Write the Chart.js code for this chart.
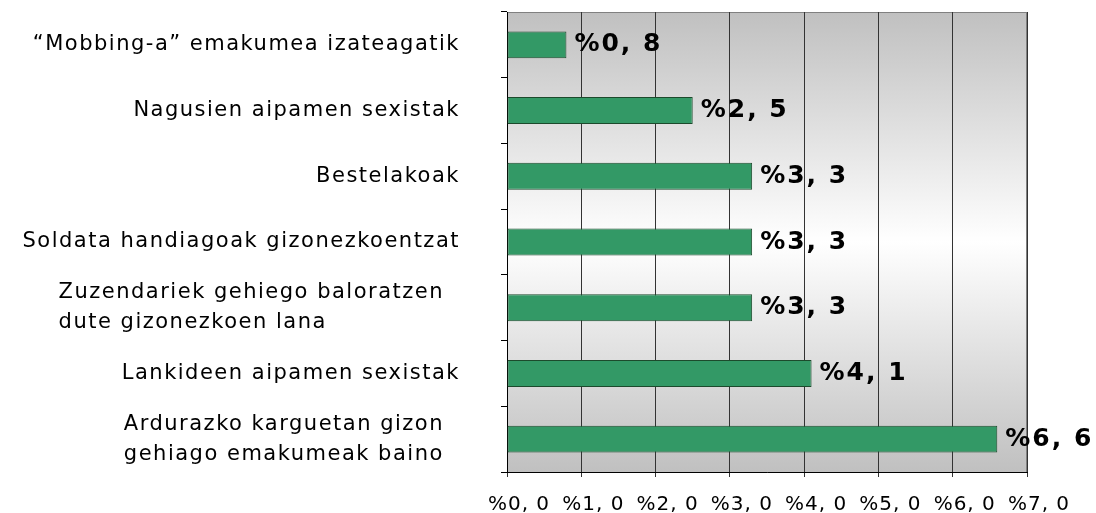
<!DOCTYPE html>
<html>
<head>
<meta charset="utf-8">
<script src="https://cdn.jsdelivr.net/npm/chart.js@4/dist/chart.umd.min.js"></script>
<style>
  html, body { margin: 0; padding: 0; background: #fff; }
  #wrap { width: 1096px; height: 513px; }
</style>
</head>
<body>
<div id="wrap"><canvas id="chart"></canvas></div>
<script>
// ===== Data =====
const categories = [
  ['\u201CMobbing-a\u201D emakumea izateagatik'],
  ['Nagusien aipamen sexistak'],
  ['Bestelakoak'],
  ['Soldata handiagoak gizonezkoentzat'],
  ['Zuzendariek gehiego baloratzen', 'dute gizonezkoen lana'],
  ['Lankideen aipamen sexistak'],
  ['Ardurazko karguetan gizon', 'gehiago emakumeak baino']
];
const values = [0.8, 2.5, 3.3, 3.3, 3.3, 4.1, 6.6];
const xTicks = [0, 1, 2, 3, 4, 5, 6, 7];

const FONT = "'DejaVu Sans', Verdana, sans-serif";
const fmtPct = v => '%' + v.toFixed(1).replace('.', ', ');

// gradient plot background + grey frame
const plotBg = {
  id: 'plotBg',
  beforeDraw(chart) {
    const { ctx, chartArea: a } = chart;
    const g = ctx.createLinearGradient(0, a.top, 0, a.bottom);
    g.addColorStop(0, '#c0c0c0');
    g.addColorStop(0.5, '#ffffff');
    g.addColorStop(1, '#c0c0c0');
    ctx.save();
    ctx.fillStyle = g;
    ctx.fillRect(a.left, a.top, a.right - a.left, a.bottom - a.top);
    ctx.strokeStyle = '#808080';
    ctx.lineWidth = 1;
    ctx.strokeRect(a.left + 0.5, a.top + 0.5, a.right - a.left - 1, a.bottom - a.top);
    ctx.restore();
    // wider letter spacing for the axis tick labels (Verdana-like look)
    ctx.letterSpacing = '1px';
  },
  afterDraw(chart) {
    chart.ctx.letterSpacing = '0px';
  }
};

// category labels: multi-line ones are left aligned in a block (Excel style)
const catLabels = {
  id: 'catLabels',
  afterDraw(chart) {
    const { ctx } = chart;
    const y = chart.scales.y;
    const left = chart.chartArea.left;
    const lh = 30;
    ctx.save();
    ctx.font = '21px ' + FONT;
    ctx.letterSpacing = '1.5px';
    ctx.fillStyle = '#000';
    ctx.textBaseline = 'middle';
    ctx.textAlign = 'left';
    categories.forEach((lines, i) => {
      const cy = y.getPixelForValue(i);
      const w = Math.max(...lines.map(l => ctx.measureText(l).width));
      const x0 = (lines.length > 1 ? left - 63 : left - 47) - w;
      lines.forEach((l, k) => {
        ctx.fillText(l, x0, cy + (k - (lines.length - 1) / 2) * lh);
      });
    });
    ctx.restore();
  }
};

// value labels at the bar ends
const valueLabels = {
  id: 'valueLabels',
  afterDatasetsDraw(chart) {
    const { ctx } = chart;
    const meta = chart.getDatasetMeta(0);
    ctx.save();
    ctx.font = 'bold 25px ' + FONT;
    ctx.letterSpacing = '2px';
    ctx.fillStyle = '#000';
    ctx.textAlign = 'left';
    ctx.textBaseline = 'middle';
    meta.data.forEach((bar, i) => {
      ctx.fillText(fmtPct(values[i]), bar.x + 8, bar.y);
    });
    ctx.restore();
  }
};

new Chart(document.getElementById('chart'), {
  type: 'bar',
  data: {
    labels: categories.map(c => c.join(' ')),
    datasets: [{
      data: values,
      backgroundColor: '#339966',
      borderColor: '#1c4a2c',
      borderWidth: 1,
      borderSkipped: false,
      categoryPercentage: 1,
      barPercentage: 0.41
    }]
  },
  options: {
    indexAxis: 'y',
    responsive: true,
    maintainAspectRatio: false,
    animation: false,
    layout: { padding: { top: 12, right: 69, left: 0, bottom: 0 } },
    plugins: { legend: { display: false }, tooltip: { enabled: false } },
    scales: {
      x: {
        min: 0, max: 7,
        afterBuildTicks: s => { s.ticks = xTicks.map(v => ({ value: v })); },
        grid: { color: '#333333', lineWidth: 1, tickLength: 5, drawTicks: true },
        border: { color: '#000', width: 1 },
        ticks: {
          callback: v => fmtPct(v),
          font: { family: FONT, size: 20 },
          color: '#000',
          padding: 16,
          labelOffset: 12,
          maxRotation: 0,
          autoSkip: false
        },
        afterFit: s => { s.height = 41; }
      },
      y: {
        grid: { display: true, drawOnChartArea: false, offset: true, tickLength: 6, color: '#000' },
        border: { color: '#000', width: 1 },
        ticks: { display: false },
        afterFit: s => { s.width = 507; }
      }
    }
  },
  plugins: [plotBg, catLabels, valueLabels]
});
</script>
</body>
</html>
